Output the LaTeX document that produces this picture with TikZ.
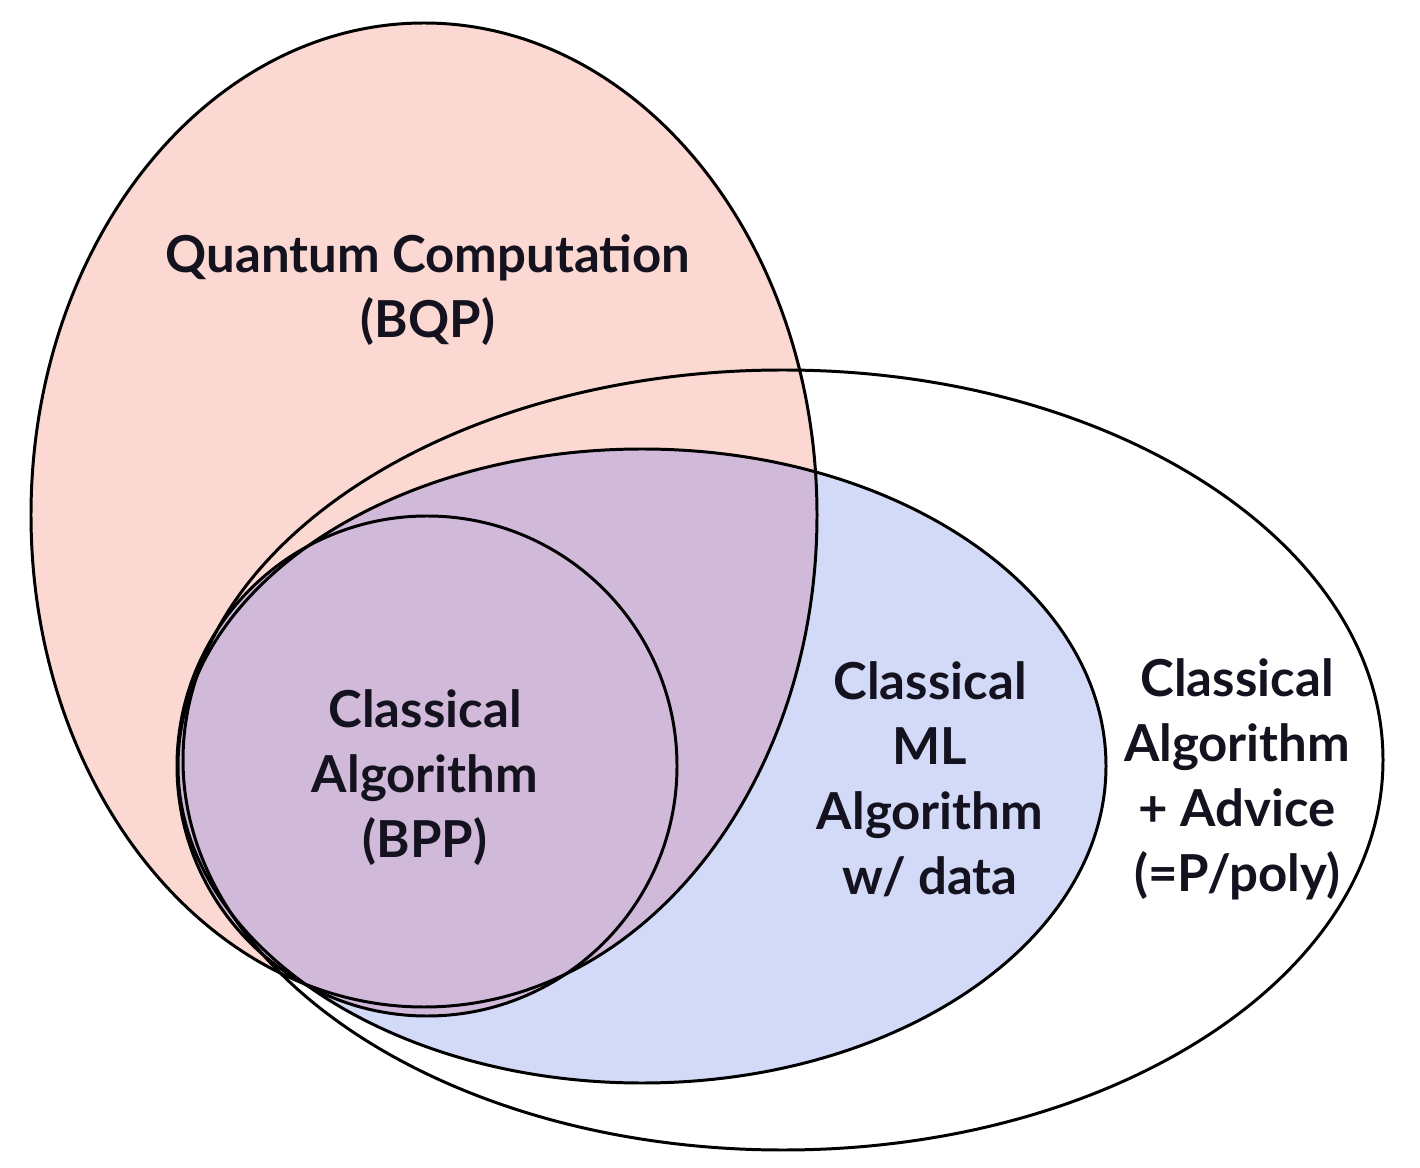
\documentclass[tikz,border=0pt]{standalone}
\usepackage{fontspec}
\setmainfont{Lato}
\usepackage{tikz}

\definecolor{bqppink}{RGB}{251,217,210}
\definecolor{mlblue}{RGB}{210,218,248}
\definecolor{bpppurple}{RGB}{208,185,217}
\definecolor{inkdark}{RGB}{20,18,30}

\begin{document}
\begin{tikzpicture}[
                    x=0.02cm, y=-0.02cm,
                    every node/.style={
                        align=center,
                        text=inkdark,
                        font=\fontsize{29}{37}\selectfont\bfseries
                    },
                    setline/.style={draw=black, line width=1.7pt}
                ]
                    \useasboundingbox (0,0) rectangle (1420,1168);

                    % Fills
                    \fill[white] (783,760) ellipse [x radius=600, y radius=390];
                    \fill[bqppink] (424,515) ellipse [x radius=393, y radius=492];
                    \fill[mlblue] (642,766) ellipse [x radius=464, y radius=317];
                    \begin{scope}
                        \clip (424,515) ellipse [x radius=393, y radius=492];
                        \fill[bpppurple] (642,766) ellipse [x radius=464, y radius=317];
                    \end{scope}
                    \fill[bpppurple] (427,766) circle [radius=250];

                    % Outlines
                    \draw[setline] (783,760) ellipse [x radius=600, y radius=390];
                    \draw[setline] (424,515) ellipse [x radius=393, y radius=492];
                    \draw[setline] (642,766) ellipse [x radius=464, y radius=317];
                    \draw[setline] (427,766) circle [radius=250];

                    % Labels
                    \node (bqp) at (428,290) {Quantum Computation\\(BQP)};
                    \node (bpp) at (425,778) {Classical\\Algorithm\\(BPP)};
                    \node (ml) at (930,779) {Classical\\ML\\Algorithm\\w/ data};
                    \node (ppoly) at (1237,779) {Classical\\Algorithm\\+ Advice\\(=P/poly)};
                \end{tikzpicture}
\end{document}
